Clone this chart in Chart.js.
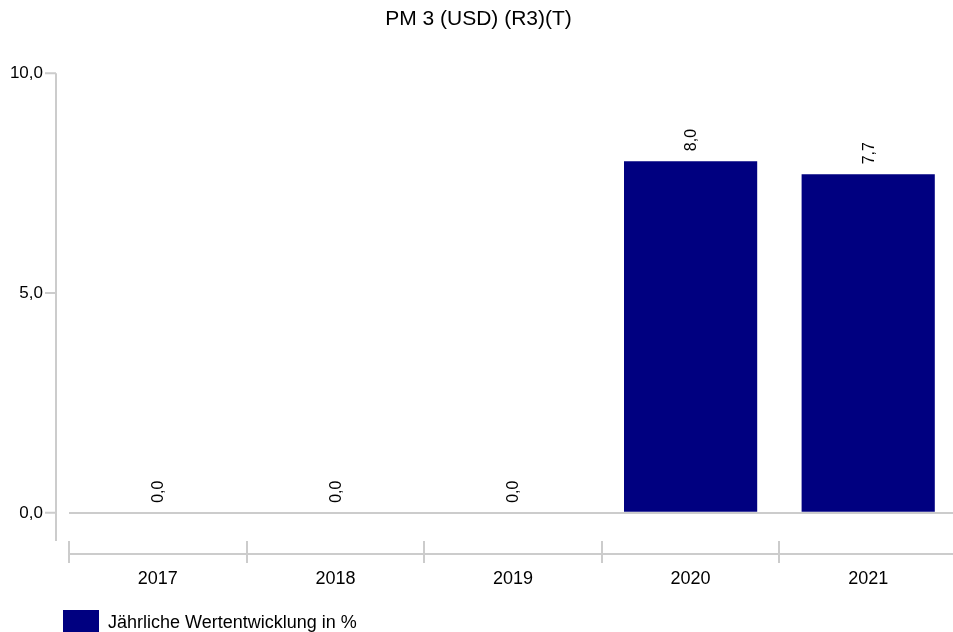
<!DOCTYPE html>
<html>
<head>
<meta charset="utf-8">
<script src="https://cdn.jsdelivr.net/npm/chart.js@4/dist/chart.umd.min.js"></script>
<style>
  html, body { margin: 0; padding: 0; overflow: hidden; background: #fff; }
  #wrap { position: relative; width: 957px; height: 646px; }
</style>
</head>
<body>
<div id="wrap"><canvas id="perfChart"></canvas></div>
<script>
// Chart data
const years = ['2017', '2018', '2019', '2020', '2021'];
const growth = [0.0, 0.0, 0.0, 8.0, 7.7];
const yTicks = [0, 5, 10];

const barColor = '#000080';
const axisColor = '#cccccc';
const fontFamily = "'Liberation Sans', Arial, sans-serif";

function fmt(v) {
    return v.toFixed(1).replace('.', ',');
}

// Draws the detached axis lines the original chart uses
const axisLines = {
    id: 'axisLines',
    beforeDatasetsDraw(chart) {
        const { ctx, chartArea, scales } = chart;
        const yAxisX = chartArea.left - 13;
        ctx.save();
        ctx.strokeStyle = axisColor;
        ctx.lineWidth = 2;
        ctx.beginPath();
        ctx.moveTo(yAxisX, chartArea.top);
        ctx.lineTo(yAxisX, chartArea.bottom);
        yTicks.forEach(t => {
            const py = scales.y.getPixelForValue(t);
            ctx.moveTo(yAxisX - 11, py);
            ctx.lineTo(yAxisX, py);
        });
        const xLineY = chartArea.bottom + 13;
        ctx.moveTo(chartArea.left, xLineY);
        ctx.lineTo(chart.width, xLineY);
        ctx.stroke();
        ctx.restore();
    }
};

// Rotated value labels above each bar
const valueLabels = {
    id: 'valueLabels',
    afterDatasetsDraw(chart) {
        const { ctx } = chart;
        const meta = chart.getDatasetMeta(0);
        ctx.save();
        ctx.fillStyle = '#000';
        ctx.font = '16px ' + fontFamily;
        ctx.textAlign = 'left';
        ctx.textBaseline = 'middle';
        meta.data.forEach((bar, i) => {
            ctx.save();
            ctx.translate(bar.x + 1, bar.y - 10);
            ctx.rotate(-Math.PI / 2);
            ctx.fillText(fmt(growth[i]), 0, 0);
            ctx.restore();
        });
        ctx.restore();
    }
};

// Legend sits under the plot, not at the canvas edge
const legendShift = {
    id: 'legendShift',
    afterLayout(chart) {
        if (chart.legend) chart.legend.left += 55;
    }
};

new Chart(document.getElementById('perfChart'), {
    type: 'bar',
    data: {
        labels: years,
        datasets: [{
            label: 'Jährliche Wertentwicklung in %',
            data: growth,
            backgroundColor: barColor,
            borderWidth: 0,
            categoryPercentage: 1,
            barPercentage: 0.75
        }]
    },
    options: {
        responsive: true,
        maintainAspectRatio: false,
        animation: false,
        plugins: {
            title: {
                display: true,
                text: 'PM 3 (USD) (R3)(T)',
                color: '#000',
                font: { size: 21, family: fontFamily, weight: 'normal' },
                padding: { top: 7, bottom: 41 }
            },
            legend: {
                position: 'bottom',
                align: 'start',
                labels: {
                    color: '#000',
                    boxWidth: 36,
                    boxHeight: 26,
                    padding: 8,
                    font: { size: 18, family: fontFamily }
                }
            },
            tooltip: { enabled: false }
        },
        scales: {
            x: {
                offset: true,
                border: { display: false },
                afterFit(scale) {
                    scale.height = 61;
                },
                grid: {
                    offset: true,
                    drawOnChartArea: false,
                    drawTicks: true,
                    tickLength: 22,
                    color: axisColor,
                    lineWidth: 2
                },
                ticks: {
                    color: '#000',
                    padding: 5,
                    font: { size: 18, family: fontFamily }
                }
            },
            y: {
                min: -0.64,
                max: 10,
                border: { display: false },
                afterFit(scale) {
                    scale.width = 69;
                },
                afterBuildTicks(scale) {
                    scale.ticks = yTicks.map(v => ({ value: v }));
                },
                grid: {
                    drawTicks: false,
                    color: ctx => (ctx.tick && ctx.tick.value === 0 ? axisColor : 'rgba(0,0,0,0)'),
                    lineWidth: 2
                },
                ticks: {
                    color: '#000',
                    padding: 26,
                    font: { size: 17, family: fontFamily },
                    callback: v => fmt(v)
                }
            }
        }
    },
    plugins: [axisLines, valueLabels, legendShift]
});
</script>
</body>
</html>
